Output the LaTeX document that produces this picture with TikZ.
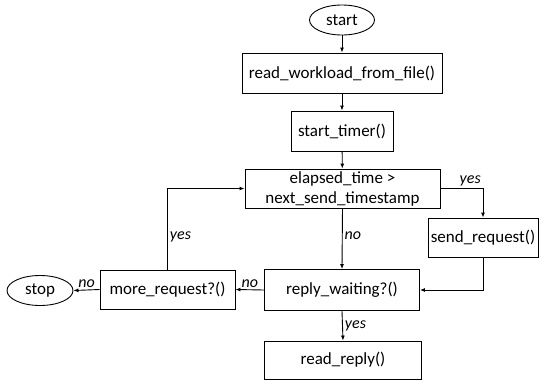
\documentclass[tikz,border=0pt]{standalone}
\usepackage{fontspec}
\setmainfont{Carlito}
\usetikzlibrary{shapes.geometric,arrows.meta}
\begin{document}
\begin{tikzpicture}[x=1pt,y=-1pt,
  every node/.style={font=\fontsize{17}{20}\selectfont},
  proc/.style={draw,line width=0.9pt,rectangle,inner sep=0pt,align=center},
  term/.style={draw,line width=0.9pt,ellipse,inner sep=0pt},
  lbl/.style={font=\fontsize{16}{19}\selectfont\itshape,inner sep=2pt},
  conn/.style={line width=0.9pt,-{Latex[length=5pt,width=4pt]}},
  plain/.style={line width=0.9pt}]
\path[fill=white] (0,0) rectangle (542,381);
\useasboundingbox (0,0) rectangle (542,381);
\node[term,minimum width=65pt,minimum height=30pt] (start) at (342,20) {start};
\node[proc,minimum width=200pt,minimum height=40pt] (rw) at (342,73) {read\_workload\_from\_file()};
\node[proc,minimum width=102pt,minimum height=40pt] (st) at (342,131) {start\_timer()};
\node[proc,minimum width=195pt,minimum height=39pt] (el) at (342.5,188.5) {elapsed\_time >\\next\_send\_timestamp};
\node[proc,minimum width=110pt,minimum height=39pt] (sr) at (483,237.5) {send\_request()};
\node[proc,minimum width=155pt,minimum height=41pt] (rwt) at (342,290) {reply\_waiting?()};
\node[proc,minimum width=157pt,minimum height=38pt] (rr) at (343,360) {read\_reply()};
\node[proc,minimum width=135pt,minimum height=39pt] (mr) at (167.5,289.5) {more\_request?()};
\node[term,minimum width=66pt,minimum height=30pt] (stop) at (40,290.5) {stop};
\draw[conn] (start) -- (rw);
\draw[conn] (rw) -- (st);
\draw[conn] (st) -- (el);
\draw[conn] (el.east) -| node[lbl,above,pos=0.35] {yes} (sr.north);
\draw[conn] (el.south) -- node[lbl,right,pos=0.45] {no} (rwt.north);
\draw[conn] (sr.south) |- (rwt.east);
\draw[conn] (rwt.west) -- node[lbl,above] {no} (mr.east);
\draw[conn] (mr.west) -- node[lbl,above] {no} (stop.east);
\draw[conn] (mr.north) |- node[lbl,right,pos=0.2] {yes} (el.west);
\draw[conn] (rwt.south) -- node[lbl,right] {yes} (rr.north);
\end{tikzpicture}
\end{document}
